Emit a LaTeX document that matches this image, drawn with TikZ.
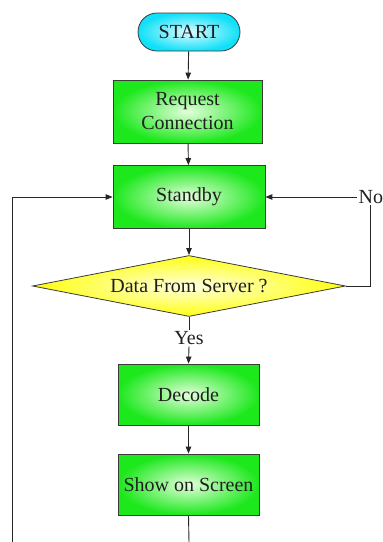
\documentclass[tikz,border=0pt]{standalone}
\usepackage{fontspec}
\setmainfont{Liberation Serif}
\newfontfamily\diagfont{Liberation Serif}
\usetikzlibrary{arrows.meta,shapes.misc,shapes.geometric}

\definecolor{boxgreen}{HTML}{1CE81C}
\definecolor{boxgreenlight}{HTML}{E4FFDC}
\definecolor{termcyan}{HTML}{10E0F8}
\definecolor{termcyanlight}{HTML}{E0FCFF}
\definecolor{decyellow}{HTML}{FFFF10}
\definecolor{decyellowlight}{HTML}{FFFFE0}
\definecolor{edgegray}{HTML}{3A3A3A}

\tikzset{
  every node/.style={font=\diagfont\fontsize{20}{24}\selectfont, text=black!88},
  procbox/.style={draw=edgegray, line width=0.8pt, rectangle, align=center,
    shading=radial, inner color=boxgreenlight, outer color=boxgreen},
  terminal/.style={draw=edgegray, line width=0.8pt, rounded rectangle,
    shading=radial, inner color=termcyanlight, outer color=termcyan,
    minimum width=102pt, minimum height=38pt, inner sep=0pt},
  decision/.style={draw=edgegray, line width=0.8pt, diamond, aspect=5.1,
    shading=radial, inner color=decyellowlight, outer color=decyellow,
    minimum width=313pt, minimum height=61pt, inner sep=0pt},
  flow/.style={draw=black!85, line width=0.9pt},
  arrowed/.style={flow, -{Triangle[length=7pt,width=5.5pt]}},
  plainlabel/.style={inner sep=1.5pt}
}

\begin{document}
\begin{tikzpicture}[x=1pt,y=-1pt]
  \useasboundingbox (0,0) rectangle (383,542);

  % process steps, top to bottom
  \node[terminal] (start) at (189,32) {START};
  \node[procbox, minimum width=149pt, minimum height=63pt] (request) at (187.5,111.5) {Request\\Connection};
  \node[procbox, minimum width=152pt, minimum height=63pt] (standby) at (189,197) {Standby};
  \node[decision] (check) at (189,286) {Data From Server ?};
  \node[plainlabel] (yes) at (189,338) {Yes};
  \node[procbox, minimum width=141pt, minimum height=61pt] (decode) at (188.5,394.5) {Decode};
  \node[procbox, minimum width=141pt, minimum height=61pt] (show) at (188.5,484.5) {Show on Screen};
  \node[plainlabel, anchor=west] (no) at (357,197) {No};

  % loose ends running off the bottom edge
  \coordinate (outmain) at (189,542);
  \coordinate (outloop) at (12,542);

  % main flow
  \draw[arrowed] (start) -- (request);
  \draw[arrowed] (request) -- (standby);
  \draw[arrowed] (standby) -- (check);
  \draw[flow] (check.south) -- (yes.north);
  \draw[arrowed] (yes.south) -- (decode.north);
  \draw[arrowed] (decode) -- (show);
  \draw[flow] (show.south) -- (outmain);

  % "No" branch back to standby
  \draw[flow] (check.east) -| (no.south);
  \draw[arrowed] (no.west) -- (standby.east);

  % return loop on the left
  \draw[arrowed] (outloop) |- (standby.west);
\end{tikzpicture}
\end{document}
